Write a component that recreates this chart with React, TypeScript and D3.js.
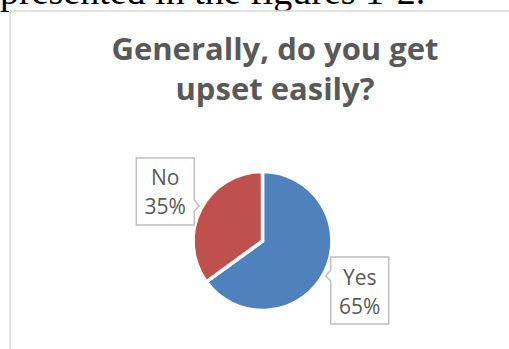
import React from "react";
import * as d3 from "d3";

const categories = ["Yes", "No"];
const values = [65, 35];
const colors = ["#4F81BD", "#C0504D"];
const titleLines = ["Generally, do you get", "upset easily?"];
const captionText = "presented in the figures 1-2.";

const W = 509;
const H = 349;

export default function App() {
  const cx = 262.5;
  const cy = 241;
  const r = 69.5;
  const pie = d3.pie<number>().sort(null).value((d) => d)(values);
  const arc = d3.arc<d3.PieArcDatum<number>>().innerRadius(0).outerRadius(r);
  const total = d3.sum(values);
  const fmt = d3.format(".0%");
  const boxW = 58;
  const boxH = 67;
  const labelR = r * 1.57;

  return (
    <div style={{ position: "fixed", left: 0, top: 0, width: W, height: H, background: "#fff" }}>
      <svg width={W} height={H} style={{ display: "block" }}>
        <rect width={W} height={H} fill="#fff" />
        <text x={0} y={4} fontFamily="'Liberation Serif', serif" fontSize={38} fill="#000">
          {captionText}
        </text>
        <rect x={10} y={11} width={W + 20} height={H + 20} fill="#fff" stroke="#d9d9d9" strokeWidth={1.5} />
        <g fontFamily="'Open Sans', sans-serif" fontWeight={700} fontSize={31} fill="#595959" textAnchor="middle">
          {titleLines.map((t, i) => (
            <text key={i} x={275} y={60 + i * 40}>
              {t}
            </text>
          ))}
        </g>
        <g transform={`translate(${cx},${cy})`}>
          {pie.map((p, i) => (
            <path key={i} d={arc(p) || ""} fill={colors[i]} stroke="#fff" strokeWidth={3.5} strokeLinejoin="miter" />
          ))}
        </g>
        {pie.map((p, i) => {
          const mid = (p.startAngle + p.endAngle) / 2;
          const dx = Math.sin(mid);
          const dy = -Math.cos(mid);
          const bx = cx + dx * labelR;
          const by = cy + dy * labelR;
          const left = bx - boxW / 2;
          const top = by - boxH / 2;
          const right = bx + boxW / 2;
          const bottom = by + boxH / 2;
          const side = dx > 0 ? left : right;
          const out = dx > 0 ? -5 : 5;
          const py = by - dy * 32;
          const pts =
            dx > 0
              ? [
                  [left, top],
                  [right, top],
                  [right, bottom],
                  [left, bottom],
                  [left, py + 5],
                  [side + out, py],
                  [left, py - 6],
                ]
              : [
                  [left, top],
                  [right, top],
                  [right, py - 6],
                  [side + out, py],
                  [right, py + 5],
                  [right, bottom],
                  [left, bottom],
                ];
          return (
            <g key={i}>
              <path d={"M" + pts.map((q) => q.join(",")).join("L") + "Z"} fill="#fff" stroke="#bfbfbf" strokeWidth={1.5} />
              <text x={bx} y={by - 6} textAnchor="middle" fontFamily="'Open Sans', sans-serif" fontSize={21} fill="#595959">
                {categories[i]}
              </text>
              <text x={bx} y={by + 23} textAnchor="middle" fontFamily="'Open Sans', sans-serif" fontSize={21} fill="#595959">
                {fmt(values[i] / total)}
              </text>
            </g>
          );
        })}
      </svg>
    </div>
  );
}
